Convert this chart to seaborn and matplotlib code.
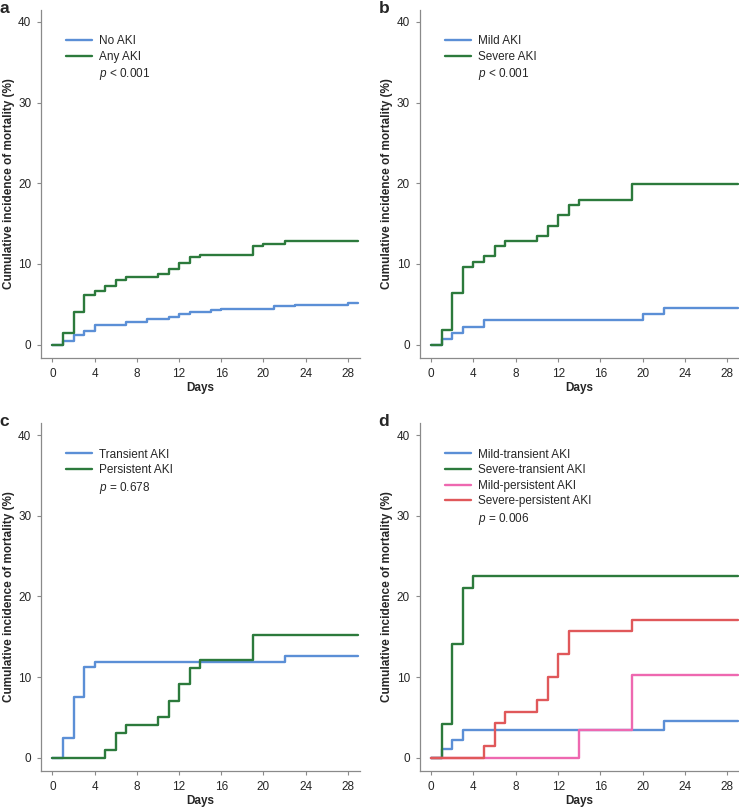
import numpy as np
import pandas as pd
import matplotlib
matplotlib.use("Agg")
import matplotlib.pyplot as plt
import seaborn as sns
from matplotlib.lines import Line2D

# ── DATA (step times in days, cumulative incidence %) ─────────────
# panel a
a_no_t = [0, 1, 2, 3, 4, 7, 9, 11, 12, 13, 15, 16, 21, 23, 28, 29]
a_no_v = [0, 0.45, 1.2, 1.7, 2.4, 2.75, 3.2, 3.45, 3.75, 4.0, 4.25, 4.45, 4.75, 4.95, 5.2, 5.2]
a_any_t = [0, 1, 2, 3, 4, 5, 6, 7, 10, 11, 12, 13, 14, 19, 20, 22, 29]
a_any_v = [0, 1.45, 4.1, 6.2, 6.6, 7.3, 8.0, 8.35, 8.7, 9.4, 10.1, 10.8, 11.1, 12.2, 12.5, 12.85, 12.85]
# panel b
b_mild_t = [0, 1, 2, 3, 5, 20, 22, 29]
b_mild_v = [0, 0.7, 1.5, 2.2, 3.0, 3.75, 4.5, 4.5]
b_sev_t = [0, 1, 2, 3, 4, 5, 6, 7, 10, 11, 12, 13, 14, 19, 29]
b_sev_v = [0, 1.85, 6.4, 9.6, 10.25, 10.95, 12.2, 12.85, 13.4, 14.75, 16.0, 17.35, 17.95, 19.85, 19.85]
# panel c
c_tr_t = [0, 1, 2, 3, 4, 22, 29]
c_tr_v = [0, 2.5, 7.5, 11.3, 11.9, 12.55, 12.55]
c_pe_t = [0, 5, 6, 7, 10, 11, 12, 13, 14, 19, 29]
c_pe_v = [0, 1.0, 3.0, 4.0, 5.0, 7.0, 9.1, 11.1, 12.1, 15.2, 15.2]
# panel d
d_mt_t = [0, 1, 2, 3, 22, 29]
d_mt_v = [0, 1.1, 2.2, 3.4, 4.5, 4.5]
d_st_t = [0, 1, 2, 3, 4, 29]
d_st_v = [0, 4.2, 14.1, 21.1, 22.5, 22.5]
d_mp_t = [0, 14, 19, 29]
d_mp_v = [0, 3.4, 10.3, 10.3]
d_sp_t = [0, 5, 6, 7, 10, 11, 12, 13, 19, 29]
d_sp_v = [0, 1.4, 4.25, 5.7, 7.1, 10.0, 12.85, 15.7, 17.05, 17.05]

x_ticks = [0, 4, 8, 12, 16, 20, 24, 28]
y_ticks = [0, 10, 20, 30, 40]

BLUE = "#5b8fd6"
GREEN = "#2c7a3c"
PINK = "#ee68b0"
RED = "#e0585a"

panels = [
    ("a", [("No AKI", a_no_t, a_no_v, BLUE), ("Any AKI", a_any_t, a_any_v, GREEN)], "< 0.001"),
    ("b", [("Mild AKI", b_mild_t, b_mild_v, BLUE), ("Severe AKI", b_sev_t, b_sev_v, GREEN)], "< 0.001"),
    ("c", [("Transient AKI", c_tr_t, c_tr_v, BLUE), ("Persistent AKI", c_pe_t, c_pe_v, GREEN)], "= 0.678"),
    ("d", [("Mild-transient AKI", d_mt_t, d_mt_v, BLUE), ("Severe-transient AKI", d_st_t, d_st_v, GREEN),
           ("Mild-persistent AKI", d_mp_t, d_mp_v, PINK), ("Severe-persistent AKI", d_sp_t, d_sp_v, RED)], "= 0.006"),
]

sns.set_style("ticks")
plt.rcParams["font.family"] = ["Liberation Sans", "DejaVu Sans"]
plt.rcParams["mathtext.fontset"] = "custom"
plt.rcParams["mathtext.it"] = "Liberation Sans:italic"
plt.rcParams["mathtext.rm"] = "Liberation Sans"

fig = plt.figure(figsize=(7.39, 8.08), dpi=100)
positions = [
    [0.0555, 0.557, 0.431, 0.431],
    [0.568, 0.557, 0.432, 0.431],
    [0.0555, 0.0458, 0.431, 0.4307],
    [0.568, 0.0458, 0.432, 0.4307],
]

for (letter, series, ptxt), pos in zip(panels, positions):
    ax = fig.add_axes(pos)
    rows = []
    for name, ts, vs, _ in series:
        for t, v in zip(ts, vs):
            rows.append((name, t, v))
    df = pd.DataFrame(rows, columns=["group", "day", "cum"])
    pal = {name: c for name, _, _, c in series}
    sns.lineplot(data=df, x="day", y="cum", hue="group", palette=pal,
                 drawstyle="steps-post", estimator=None, linewidth=1.7,
                 legend=False, ax=ax)
    ax.set_xlim(-1.08, 29.1)
    ax.set_ylim(-1.65, 41.5)
    ax.set_xticks(x_ticks)
    ax.set_yticks(y_ticks)
    ax.set_xlabel("Days", fontsize=8.5, fontweight="bold", labelpad=2)
    ax.set_ylabel("Cumulative incidence of mortality (%)", fontsize=8.5,
                  fontweight="bold", labelpad=2.5)
    ax.tick_params(labelsize=8.5, color="#8a8a8a", length=3, width=0.8, pad=4)
    sns.despine(ax=ax)
    for sp in ["left", "bottom"]:
        ax.spines[sp].set_color("#8a8a8a")
        ax.spines[sp].set_linewidth(0.9)

    handles = [Line2D([], [], color=c, lw=1.7) for _, _, _, c in series]
    labels = [name for name, _, _, _ in series]
    handles.append(Line2D([], [], color="none"))
    labels.append("$p$ " + ptxt)
    ax.legend(handles, labels, loc="upper left", bbox_to_anchor=(0.065, 0.94),
              frameon=False, fontsize=8.5, handlelength=2.2, handletextpad=0.6,
              labelspacing=0.3, borderaxespad=0)

    fig.text(pos[0] - 0.056, pos[1] + pos[3] + 0.011, letter, fontsize=12.5,
             fontweight="bold", va="top", ha="left")

fig.savefig("out.png", dpi=100)
